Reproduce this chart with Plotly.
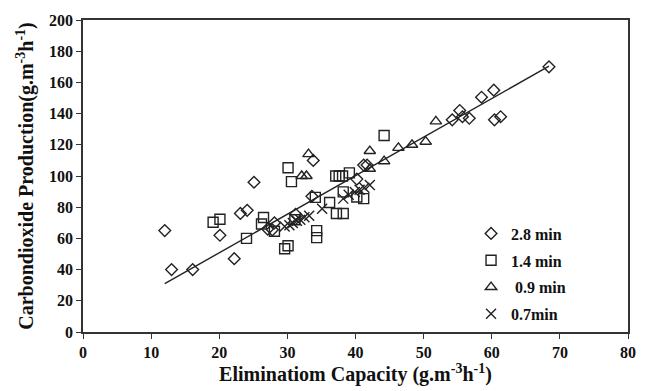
import plotly.graph_objects as go

# ---- data ----
d28_x = [12.0, 13.0, 16.1, 20.1, 22.2, 23.1, 24.1, 25.1, 27.1, 27.8, 28.1, 31.2, 33.6, 33.8,
         40.2, 41.2, 41.7, 54.2, 55.3, 55.7, 56.7, 58.5, 60.3, 60.4, 61.3, 68.4]
d28_y = [65, 40, 40, 62, 47, 76, 78, 96, 66, 65.5, 70, 75.5, 87, 110,
         98, 107, 107, 136, 142, 138, 137, 150.5, 155, 136, 138, 170]

d14_x = [19.1, 20.1, 24.0, 26.2, 26.5, 28.1, 29.6, 30.1, 30.1, 30.6, 31.1, 34.1, 34.3, 34.3,
         36.2, 37.1, 37.6, 38.1, 37.2, 38.2, 38.2, 39.1, 40.2, 41.2, 44.2]
d14_y = [70.4, 72.3, 60, 69.2, 73.4, 64.6, 53.4, 55.3, 105.3, 96.4, 72, 86.3, 65, 60.5,
         83, 100, 100, 100, 76, 76, 89.8, 102, 86.5, 85.5, 126]

d09_x = [32.1, 32.8, 33.1, 42.1, 42.1, 44.2, 46.3, 48.3, 50.3, 51.8]
d09_y = [100, 100, 114, 116, 104.6, 109.5, 118, 120, 122, 135]

d07_x = [29.6, 30.3, 30.8, 31.4, 31.9, 32.5, 33.2, 35.1, 38.2, 39.0, 39.9, 40.6, 41.3, 42.1]
d07_y = [67.7, 68.4, 69.8, 71.3, 72, 73.5, 74.5, 79, 85.5, 88, 89.8, 91.2, 92.5, 94.3]

fit_x = [12.0, 68.4]
fit_y = [31.0, 170.4]

series_names = ["2.8 min", "1.4 min", "\u00a00.9 min", "0.7min"]

FONT = "Liberation Serif, Times New Roman, serif"
INK = "#222222"

fig = go.Figure()

fig.add_trace(go.Scatter(x=fit_x, y=fit_y, mode="lines", showlegend=False,
                         line=dict(color=INK, width=1.4), hoverinfo="skip"))

specs = [
    (d28_x, d28_y, "diamond-open", 9),
    (d14_x, d14_y, "square-open", 10),
    (d09_x, d09_y, "triangle-up-open", 10),
    (d07_x, d07_y, "x-thin-open", 10),
]
for i, (xs, ys, sym, sz) in enumerate(specs):
    fig.add_trace(go.Scatter(
        x=xs, y=ys, mode="markers", name=series_names[i], legendgroup=f"g{i}",
        marker=dict(symbol=sym, size=sz, color=INK, line=dict(color=INK, width=1.4)),
    ))

axis_common = dict(
    showgrid=False, zeroline=False, showline=True, linecolor="#333333", linewidth=1.5,
    mirror=True, ticks="outside", ticklen=5, tickwidth=1.3, tickcolor="#333333",
    tickfont=dict(family=FONT, size=16, color="#111111", weight="bold"),
)

fig.update_layout(
    width=648, height=391,
    margin=dict(l=83, r=14, t=16, b=59),
    paper_bgcolor="white", plot_bgcolor="white",
    font=dict(family=FONT, color="#111111"),
    xaxis=dict(range=[0, 80], dtick=10, tick0=0,
               title=dict(text="Eliminatiom Capacity (g.m<sup>-3</sup>h<sup>-1</sup>)",
                          font=dict(family=FONT, size=20, color="#111111", weight="bold"),
                          standoff=4),
               **axis_common),
    yaxis=dict(range=[0, 200], dtick=20, tick0=0,
               title=dict(text="Carbondioxide Production(g.m<sup>-3</sup>h<sup>-1</sup>)",
                          font=dict(family=FONT, size=20, color="#111111", weight="bold"),
                          standoff=10),
               **axis_common),
    legend=dict(x=0.712, y=0.37, xanchor="left", yanchor="top",
                bgcolor="rgba(0,0,0,0)", borderwidth=0,
                font=dict(family=FONT, size=16, color="#111111", weight="bold"),
                traceorder="grouped", tracegroupgap=3, itemwidth=30),
)

fig.write_html("out.html")
